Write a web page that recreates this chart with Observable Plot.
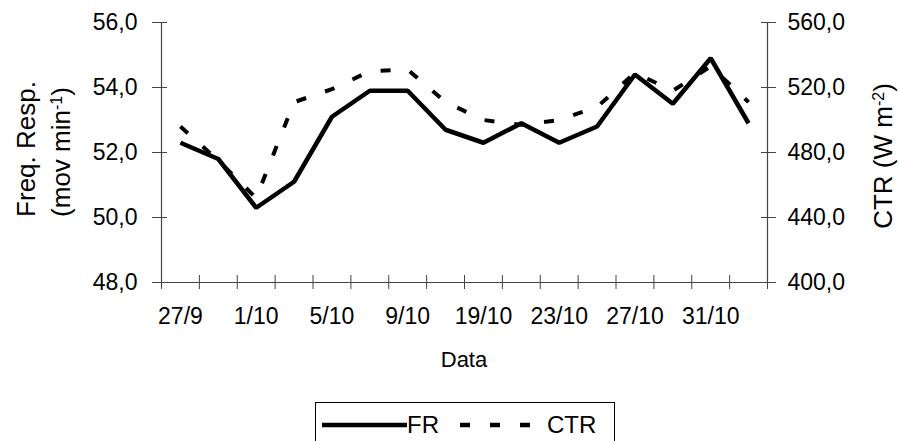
<!DOCTYPE html>
<html>
<head>
<meta charset="utf-8">
<script src="https://cdn.jsdelivr.net/npm/d3@7"></script>
<script src="https://cdn.jsdelivr.net/npm/@observablehq/plot@0.6"></script>
<style>
  html, body { margin: 0; padding: 0; background: #fff; }
  body { font-family: "Liberation Sans", Arial, sans-serif; color: #000; position: relative; width: 899px; height: 441px; overflow: hidden; }
  #chart svg { display: block; }
  #legend {
    position: absolute; left: 315px; top: 402px; width: 300px; height: 50px;
    border: 1px solid #000; box-sizing: border-box; background: #fff;
    display: flex; align-items: flex-start; padding-left: 6px; padding-top: 9px;
    font-size: 24px; line-height: 26px;
  }
  #legend svg { display: block; flex: none; }
  #legend span { display: block; flex: none; }
</style>
</head>
<body>
<div id="chart"></div>
<div id="legend"></div>
<script>
// ---- data ----
const dates = ["27/9","29/9","1/10","3/10","5/10","7/10","9/10","17/10","19/10","21/10","23/10","25/10","27/10","29/10","31/10","2/11"];
const frValues = [52.3, 51.8, 50.3, 51.1, 53.1, 53.9, 53.9, 52.7, 52.3, 52.9, 52.3, 52.8, 54.4, 53.5, 54.9, 52.9];
const ctrValues = [496, 475, 452, 511, 519, 530, 531, 511, 500, 497, 500, 508, 529, 518, 533, 511];
const leftTicks = [48, 50, 52, 54, 56];
const rightTicks = [400, 440, 480, 520, 560];
const leftDomain = [48, 56];
const rightDomain = [400, 560];
const seriesNames = ["FR", "CTR"];

// ---- helpers ----
const toLeft = d3.scaleLinear().domain(rightDomain).range(leftDomain);
const toRight = d3.scaleLinear().domain(leftDomain).range(rightDomain);
const fmt = d => d3.format(".1f")(d).replace(".", ",");
const n = dates.length;
const rows = dates.map((d, i) => ({ i, date: d, fr: frValues[i], ctr: ctrValues[i], ctrL: toLeft(ctrValues[i]) }));
const xDomain = [-0.5, n - 0.5];
const boundaries = d3.range(n + 1).map(k => k - 0.5);
const labelIdx = d3.range(0, n, 2);
const axisColor = "#444";

const plot = Plot.plot({
  width: 899,
  height: 395,
  marginLeft: 161,
  marginRight: 132,
  marginTop: 22,
  marginBottom: 113,
  style: { fontFamily: "'Liberation Sans', Arial, sans-serif", fontSize: "23px", color: "#000", background: "#fff", overflow: "visible" },
  x: { domain: xDomain, axis: null },
  y: { domain: leftDomain, axis: null },
  marks: [
    // axis lines
    Plot.ruleY([leftDomain[0]], { stroke: axisColor, strokeWidth: 1.2 }),
    Plot.ruleX(xDomain, { stroke: axisColor, strokeWidth: 1.2 }),
    // crossing tick marks
    Plot.axisX(boundaries, { anchor: "bottom", tickSize: 14, dy: -7, fill: "none", stroke: axisColor, label: null }),
    Plot.axisY(leftTicks, { anchor: "left", tickSize: 15, dx: 6, fill: "none", stroke: axisColor, label: null }),
    Plot.axisY(rightTicks.map(toLeft), { anchor: "right", tickSize: 15, dx: -7, fill: "none", stroke: axisColor, label: null }),
    // tick labels
    Plot.axisX(labelIdx, { anchor: "bottom", tickSize: 0, tickPadding: 25, stroke: "none", fill: "#000", tickFormat: i => dates[i], label: null }),
    Plot.axisY(leftTicks, { anchor: "left", tickSize: 0, tickPadding: 24, stroke: "none", fill: "#000", tickFormat: fmt, label: null }),
    Plot.axisY(rightTicks.map(toLeft), { anchor: "right", tickSize: 0, tickPadding: 20, stroke: "none", fill: "#000", tickFormat: d => fmt(toRight(d)), label: null }),
    // series
    Plot.line(rows, { x: "i", y: "ctrL", stroke: "#000", strokeWidth: 4, strokeDasharray: "10,20", strokeLinejoin: "miter", strokeLinecap: "butt" }),
    Plot.line(rows, { x: "i", y: "fr", stroke: "#000", strokeWidth: 4.5, strokeLinejoin: "miter", strokeLinecap: "butt" })
  ]
});

document.getElementById("chart").appendChild(plot);

// ---- axis titles (real text with superscripts) ----
const svg = d3.select(plot);
const xr = plot.scale("x").range;
const yr = plot.scale("y").range;
const xMid = (xr[0] + xr[1]) / 2;
const yMid = (yr[0] + yr[1]) / 2;

svg.append("text")
  .attr("x", xMid).attr("y", 367)
  .attr("text-anchor", "middle")
  .style("font-size", "22px").style("font-family", "'Liberation Sans', Arial, sans-serif")
  .text("Data");

function rotated(x, y, parts) {
  const t = svg.append("text")
    .attr("transform", `translate(${x},${y}) rotate(-90)`)
    .attr("text-anchor", "middle")
    .style("font-size", "26px").style("font-family", "'Liberation Sans', Arial, sans-serif");
  for (const p of parts) {
    const s = t.append("tspan").text(p.t);
    if (p.sup) s.attr("baseline-shift", "super").style("font-size", "16px");
  }
  return t;
}
rotated(35, yMid - 3, [{ t: "Freq. Resp." }]);
rotated(70, yMid, [{ t: "(mov min" }, { t: "-1", sup: true }, { t: ")" }]);
rotated(892, yMid + 4, [{ t: "CTR (W m" }, { t: "-2", sup: true }, { t: ")" }]);

// ---- legend ----
const legend = d3.select("#legend");
const sw1 = legend.append("svg").attr("width", 85).attr("height", 26);
sw1.append("line").attr("x1", 0).attr("x2", 85).attr("y1", 13).attr("y2", 13)
  .attr("stroke", "#000").attr("stroke-width", 4.5);
legend.append("span").style("width", "40px").text(seriesNames[0]);
const sw2 = legend.append("svg").attr("width", 95).attr("height", 26);
sw2.append("line").attr("x1", 13).attr("x2", 95).attr("y1", 13).attr("y2", 13)
  .attr("stroke", "#000").attr("stroke-width", 4.5).attr("stroke-dasharray", "10,20");
legend.append("span").style("margin-left", "5px").text(seriesNames[1]);
</script>
</body>
</html>
